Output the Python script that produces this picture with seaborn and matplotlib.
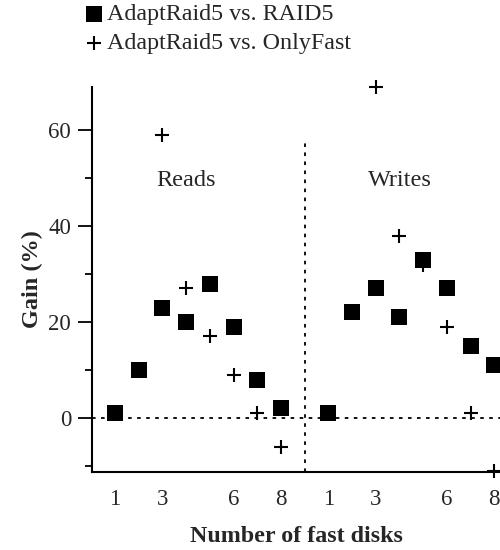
import numpy as np
import pandas as pd
import matplotlib
matplotlib.use("Agg")
import matplotlib.pyplot as plt
import seaborn as sns

# Data
read_disks_raid5 = [1, 2, 3, 4, 5, 6, 7, 8]
read_gain_raid5 = [1, 10, 23, 20, 28, 19, 8, 2]
read_disks_fast = [3, 4, 5, 6, 7, 8]
read_gain_fast = [59, 27, 17, 9, 1, -6]
write_disks_raid5 = [1, 2, 3, 4, 5, 6, 7, 8]
write_gain_raid5 = [1, 22, 27, 21, 33, 27, 15, 11]
write_disks_fast = [3, 4, 5, 6, 7, 8]
write_gain_fast = [69, 38, 32, 19, 1, -11]
tick_disks = [1, 3, 6, 8]
series_names = ["AdaptRaid5 vs. RAID5", "AdaptRaid5 vs. OnlyFast"]

WRITE_OFFSET = 9

rows = []
for n, g in zip(read_disks_raid5, read_gain_raid5):
    rows.append(("Reads", n, n, g, series_names[0]))
for n, g in zip(read_disks_fast, read_gain_fast):
    rows.append(("Reads", n, n, g, series_names[1]))
for n, g in zip(write_disks_raid5, write_gain_raid5):
    rows.append(("Writes", n, n + WRITE_OFFSET, g, series_names[0]))
for n, g in zip(write_disks_fast, write_gain_fast):
    rows.append(("Writes", n, n + WRITE_OFFSET, g, series_names[1]))
df = pd.DataFrame(rows, columns=["op", "disks", "pos", "gain", "series"])

sns.set_theme(style="ticks")
plt.rcParams["font.family"] = ["Liberation Serif", "DejaVu Serif"]

fig = plt.figure(figsize=(5, 5.5), dpi=100)
ax = fig.add_axes([92 / 500, 1 - 472 / 550, 1 - 92 / 500, (472 - 87) / 550])

sq = df[df.series == series_names[0]]
pl = df[df.series == series_names[1]]
sns.scatterplot(data=sq, x="pos", y="gain", marker="s", s=125, color="black",
                edgecolor="black", linewidth=0, ax=ax, label=series_names[0],
                clip_on=False, zorder=3)
sns.scatterplot(data=pl, x="pos", y="gain", marker="+", s=95, color="black",
                linewidth=1.5, ax=ax, label=series_names[1], clip_on=False,
                zorder=4)

ax.set_xlim(0.03, 17.24)
ax.set_ylim(-11.25, 69)

ax.axhline(0, color="black", linestyle=(0, (2, 3)), linewidth=1.3, zorder=1)
ax.plot([9, 9], [-11.25, 58], color="black", linestyle=(0, (2, 3)),
        linewidth=1.3, zorder=1)

xt = tick_disks + [d + WRITE_OFFSET for d in tick_disks]
ax.set_xticks(xt)
ax.set_xticklabels([str(d) for d in tick_disks] * 2, fontsize=16.5)
ax.tick_params(axis="x", length=0, pad=12)
ax.set_yticks([0, 20, 40, 60])
ax.set_yticklabels(["0", "20", "40", "60"], fontsize=16.5)
ax.set_yticks([-10, 10, 30, 50], minor=True)
ax.tick_params(axis="y", which="major", length=10, width=1.3, direction="out",
               color="black", pad=5)
ax.tick_params(axis="y", which="minor", length=5, width=1.3, direction="out",
               color="black")

for side in ["top", "right"]:
    ax.spines[side].set_visible(False)
for side in ["left", "bottom"]:
    ax.spines[side].set_linewidth(1.5)
    ax.spines[side].set_color("black")

ax.set_xlabel("Number of fast disks", fontsize=17.3, fontweight="bold", labelpad=12)
ax.set_ylabel("Gain (%)", fontsize=17.5, fontweight="bold", labelpad=4)

ax.text(4, 49.5, "Reads", fontsize=17.5, ha="center", va="center")
ax.text(13, 49.5, "Writes", fontsize=17.5, ha="center", va="center")

leg = ax.legend(loc="upper left", bbox_to_anchor=(77 / 500, 1.0 + 6 / 550),
                bbox_transform=fig.transFigure,
                frameon=False, fontsize=17.3, handlelength=0.6, handletextpad=0.25,
                labelspacing=0.3, borderaxespad=0.0)
for h in leg.legend_handles:
    h.set_color("black")

fig.savefig("out.png", dpi=100)
